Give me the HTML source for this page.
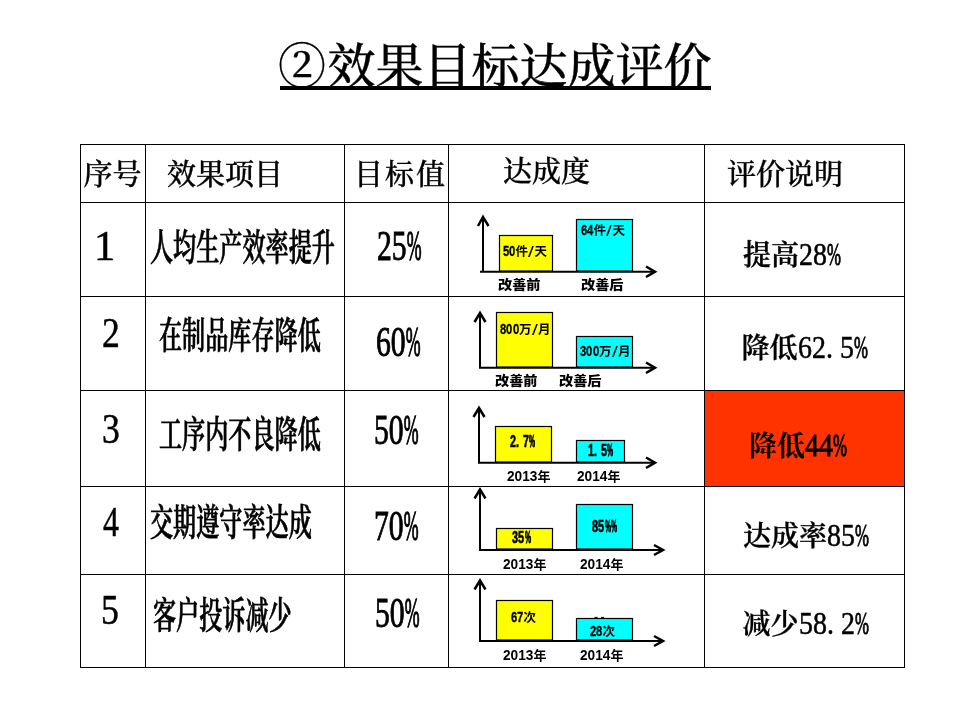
<!DOCTYPE html>
<html lang="zh-CN">
<head>
<meta charset="utf-8">
<title>②效果目标达成评价</title>
<style>
html,body{margin:0;padding:0;background:#fff;}
body{width:960px;height:720px;position:relative;overflow:hidden;color:#000;
 font-family:"Liberation Serif","Noto Serif CJK SC",serif;}
.abs{position:absolute;white-space:nowrap;line-height:1;}
.song{font-family:"Liberation Serif","Noto Serif CJK SC",serif;font-weight:500;}
.hei{font-family:"Liberation Sans","Noto Sans CJK SC",sans-serif;font-weight:700;}
#title{left:278px;top:43px;font-size:48px;font-weight:500;-webkit-text-stroke:0.3px #000;}
#title span{margin-left:1.5px;}
#title-line{position:absolute;left:280px;top:86px;width:431px;height:4px;background:#000;}
.hl{position:absolute;left:80px;width:825px;height:1px;background:#000;}
.vl{position:absolute;top:144px;height:524px;width:1px;background:#000;}
.th{font-size:29px;font-weight:500;-webkit-text-stroke:0.35px #000;}
.item{font-size:37px;font-weight:600;-webkit-text-stroke:0.7px #000;transform-origin:0 0;transform:scaleX(0.625);}
.num{-webkit-text-stroke:0.5px #000;font-size:42.5px;transform-origin:0 0;transform:scaleX(0.84);}
.tgt{-webkit-text-stroke:0.9px #000;font-size:43px;transform-origin:0 0;transform:scaleX(0.69);}
.tgt i{-webkit-text-stroke:1.3px #000;font-style:normal;display:inline-block;transform-origin:0 0;transform:scaleX(0.6);}
.ev{font-size:28px;font-weight:600;-webkit-text-stroke:0.3px #000;}
.ev i{font-style:normal;display:inline-block;width:14px;font-size:31px;line-height:0;transform-origin:0 100%;transform:scaleX(0.9);}
.ev i{-webkit-text-stroke:0.5px #000;font-weight:500;}
.ev.bold i{font-weight:400;-webkit-text-stroke:0.9px #000;}
.ev.bold i.p{-webkit-text-stroke:1.3px #000;}
.ev i.p{transform:scaleX(0.54);-webkit-text-stroke:1px #000;}
#red{position:absolute;left:705px;top:391px;width:199px;height:95px;background:#ff3300;}
svg{position:absolute;left:0;top:0;}
.bl{font-size:12.5px;}
.bl i{font-style:normal;display:inline-block;width:6.3px;font-size:14px;line-height:0;transform-origin:0 100%;transform:scaleX(0.8);-webkit-text-stroke:0.3px #000;}
.bl.big i{font-size:17px;transform:scaleX(0.64);-webkit-text-stroke:0.6px #000;}
.bl.big i.p{transform:scaleX(0.4);-webkit-text-stroke:1px #000;}
.bl i.s{font-size:15px;font-weight:400;transform:scaleX(1.4);-webkit-text-stroke:0;position:relative;top:1px;}
.xl{font-size:13px;}
.xl b{display:inline-block;width:30.6px;font-size:15px;line-height:0;transform-origin:0 100%;transform:scaleX(0.91);}
.xl.c{font-size:13px;font-weight:900;transform-origin:0 0;transform:scaleX(1.09);}
</style>
</head>
<body>
<div id="title" class="abs song">②<span>效果目标达成评价</span></div>
<div id="title-line"></div>

<!-- grid -->
<div class="hl" style="top:144px"></div>
<div class="hl" style="top:202px"></div>
<div class="hl" style="top:296px"></div>
<div class="hl" style="top:390px"></div>
<div class="hl" style="top:486px"></div>
<div class="hl" style="top:574px"></div>
<div class="hl" style="top:667px"></div>
<div class="vl" style="left:80px"></div>
<div class="vl" style="left:145px"></div>
<div class="vl" style="left:344px"></div>
<div class="vl" style="left:448px"></div>
<div class="vl" style="left:704px"></div>
<div class="vl" style="left:904px"></div>
<div id="red"></div>

<!-- header -->
<div class="abs song th" style="left:83.5px;top:161px">序号</div>
<div class="abs song th" style="left:167px;top:161px">效果项目</div>
<div class="abs song th" style="left:354px;top:161px;letter-spacing:2px">目标值</div>
<div class="abs song th" style="left:503px;top:158px">达成度</div>
<div class="abs song th" style="left:727px;top:161px">评价说明</div>

<!-- col 1 -->
<div class="abs song num" style="left:94px;top:224.5px;transform:none">1</div>
<div class="abs song num" style="left:101.5px;top:312.3px">2</div>
<div class="abs song num" style="left:102.2px;top:408.3px">3</div>
<div class="abs song num" style="left:103.3px;top:501px;transform:scaleX(0.75)">4</div>
<div class="abs song num" style="left:101px;top:589.4px">5</div>

<!-- col 2 -->
<div class="abs song item" style="left:149.5px;top:229.7px">人均生产效率提升</div>
<div class="abs song item" style="left:159px;top:317.7px">在制品库存降低</div>
<div class="abs song item" style="left:158.7px;top:416.5px">工序内不良降低</div>
<div class="abs song item" style="left:150px;top:504.5px">交期遵守率达成</div>
<div class="abs song item" style="left:153px;top:597.8px">客户投诉减少</div>

<!-- col 3 -->
<div class="abs song tgt" style="left:377px;top:224.3px">25<i>%</i></div>
<div class="abs song tgt" style="left:375.5px;top:319.7px">60<i>%</i></div>
<div class="abs song tgt" style="left:373.5px;top:407.8px">50<i>%</i></div>
<div class="abs song tgt" style="left:373.5px;top:503.5px">70<i>%</i></div>
<div class="abs song tgt" style="left:375px;top:591px">50<i>%</i></div>

<!-- col 5 -->
<div class="abs song ev" style="left:743px;top:241.7px">提高<i>2</i><i>8</i><i class="p">%</i></div>
<div class="abs song ev" style="left:741.5px;top:334.5px">降低<i>6</i><i>2</i><i>.</i><i>5</i><i class="p">%</i></div>
<div class="abs song ev bold" style="left:749px;top:433.3px;font-weight:700;-webkit-text-stroke:0 #000">降低<i>4</i><i>4</i><i class="p">%</i></div>
<div class="abs song ev" style="left:743px;top:523px">达成率<i>8</i><i>5</i><i class="p">%</i></div>
<div class="abs song ev" style="left:742.5px;top:610.5px">减少<i>5</i><i>8</i><i>.</i><i>2</i><i class="p">%</i></div>

<!-- charts -->
<svg width="960" height="720" viewBox="0 0 960 720">
<g fill="none" stroke="#000" stroke-width="2">
 <path d="M483 272.5V217 M480 271.7H655 M480 368.5V313 M479 367.7H655 M479 463.5V408 M478 462.7H655 M480 551V489.5 M479 550H663 M480 642V580.5 M479 641H663"/>
</g>
<g fill="none" stroke="#000" stroke-width="2.5">
 <path d="M478 226L483 217L488.5 226 M646 266.5L655 271.7L646 277 M474.5 322L480 313L485.5 322 M646 362.5L655 367.7L646 373 M473.5 417L479 408L484.5 417 M646 457.5L655 462.7L646 468 M474.5 498.5L480 489.5L485.5 498.5 M654 545L663 550L654 555 M474.5 589.5L480 580.5L485.5 589.5 M654 636L663 641L654 646"/>
</g>
<g stroke="#000" stroke-width="1.2">
 <rect x="499.5" y="235.5" width="53" height="35.5" fill="#ffff00"/>
 <rect x="576.5" y="219.5" width="56" height="51.5" fill="#00ffff"/>
 <rect x="496.5" y="312.5" width="56" height="54.5" fill="#ffff00"/>
 <rect x="576.5" y="336.5" width="56" height="30.5" fill="#00ffff"/>
 <rect x="495.5" y="426.5" width="56" height="35.5" fill="#ffff00"/>
 <rect x="576.5" y="440.5" width="48" height="21.5" fill="#00ffff"/>
 <rect x="496.5" y="528.5" width="56" height="20.5" fill="#ffff00"/>
 <rect x="576.5" y="504.5" width="56" height="44.5" fill="#00ffff"/>
 <rect x="496.5" y="600.5" width="56" height="39.5" fill="#ffff00"/>
 <rect x="576.5" y="618.5" width="56" height="21.5" fill="#00ffff"/>
</g>
<path d="M594.5 617.4h3.2M601 617.4h3.2" stroke="#000" stroke-width="1" fill="none"/>
</svg>

<div class="abs hei bl" style="left:503px;top:246px"><i>5</i><i>0</i>件<i class="s">/</i>天</div>
<div class="abs hei bl" style="left:581px;top:225px"><i>6</i><i>4</i>件<i class="s">/</i>天</div>
<div class="abs hei xl c" style="left:498px;top:278px">改善前</div>
<div class="abs hei xl c" style="left:580.5px;top:278px">改善后</div>

<div class="abs hei bl" style="left:500px;top:323.5px;letter-spacing:0.3px"><i>8</i><i>0</i><i>0</i>万<i class="s">/</i>月</div>
<div class="abs hei bl" style="left:580px;top:345.7px;letter-spacing:0.3px"><i>3</i><i>0</i><i>0</i>万<i class="s">/</i>月</div>
<div class="abs hei xl c" style="left:495px;top:374px">改善前</div>
<div class="abs hei xl c" style="left:559px;top:374px">改善后</div>

<div class="abs hei bl big" style="left:510px;top:437px"><i>2</i><i>.</i><i>7</i><i class="p">%</i></div>
<div class="abs hei bl big" style="left:588px;top:446px"><i>1</i><i>.</i><i>5</i><i class="p">%</i></div>
<div class="abs hei xl" style="left:507px;top:469.5px"><b>2013</b>年</div>
<div class="abs hei xl" style="left:577px;top:469.5px"><b>2014</b>年</div>

<div class="abs hei bl big" style="left:512px;top:533px"><i>3</i><i>5</i><i class="p">%</i></div>
<div class="abs hei bl big" style="left:592px;top:522.3px"><i>8</i><i>5</i><i class="p">%</i><i class="p">%</i></div>
<div class="abs hei xl" style="left:503px;top:557.5px"><b>2013</b>年</div>
<div class="abs hei xl" style="left:580px;top:557.5px"><b>2014</b>年</div>

<div class="abs hei bl" style="left:511px;top:612px"><i>6</i><i>7</i>次</div>
<div class="abs hei bl" style="left:590px;top:625.7px"><i>2</i><i>8</i>次</div>
<div class="abs hei xl" style="left:503px;top:648.5px"><b>2013</b>年</div>
<div class="abs hei xl" style="left:580px;top:648.5px"><b>2014</b>年</div>
</body>
</html>
